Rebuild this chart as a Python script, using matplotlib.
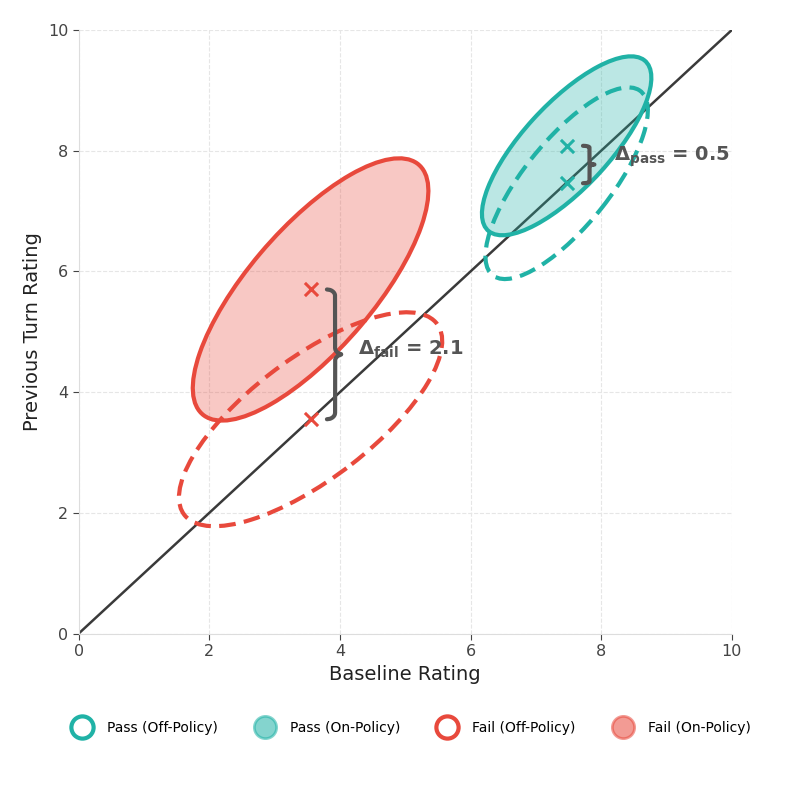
import numpy as np
import matplotlib.pyplot as plt
from matplotlib.patches import Ellipse
from matplotlib.lines import Line2D

teal = '#20b2a6'
red = '#e8493c'

# group centres (baseline, previous turn)
groups = ['Pass (Off-Policy)', 'Pass (On-Policy)', 'Fail (Off-Policy)', 'Fail (On-Policy)']
cx = [7.47, 7.47, 3.55, 3.55]
cy = [7.46, 8.08, 3.55, 5.70]
widths = [3.8, 3.7, 5.0, 5.3]
heights = [1.35, 1.35, 1.95, 1.95]
angles = [54, 50, 40, 52]
colors = [teal, teal, red, red]
filled = [False, True, False, True]
deltas = {'pass': 0.5, 'fail': 2.1}

fig, ax = plt.subplots(figsize=(7.87, 7.87), dpi=100)
fig.subplots_adjust(left=0.1, right=0.93, top=0.962, bottom=0.195)

ax.plot([0, 10], [0, 10], color='#3a3a3a', lw=1.8, zorder=2)

for i in range(4):
    if filled[i]:
        e = Ellipse((cx[i], cy[i]), widths[i], heights[i], angle=angles[i],
                    facecolor=colors[i], alpha=0.3, edgecolor='none', zorder=3)
        ax.add_patch(e)
        e = Ellipse((cx[i], cy[i]), widths[i], heights[i], angle=angles[i],
                    facecolor='none', edgecolor=colors[i], lw=3, zorder=4)
    else:
        e = Ellipse((cx[i], cy[i]), widths[i], heights[i], angle=angles[i],
                    facecolor='none', edgecolor=colors[i], lw=3, ls=(0, (4, 2)), zorder=4)
    ax.add_patch(e)
    ax.scatter(cx[i], cy[i], marker='x', s=90, color=colors[i], linewidths=2.2, zorder=5)


def brace(x, y0, y1, w):
    # curly brace with its tip pointing right
    t = np.linspace(0, 1, 300)
    ys = y0 + t * (y1 - y0)
    s = np.abs(t - 0.5) * 2
    prof = np.where(s > 0.9, np.sqrt(np.clip(1 - ((s - 0.9) / 0.1)**2, 0, 1)), 1.0)
    xs = x + w * 0.5 * prof
    tip = 1 - np.sqrt(np.clip(1 - (1 - s / 0.1)**2, 0, 1))
    xs = np.where(s < 0.1, x + w * 0.5 + w * 0.5 * tip, xs)
    ax.plot(xs, ys, color='#555555', lw=3, zorder=6, solid_capstyle='round')


brace(3.8, 3.55, 5.70, 0.25)
brace(7.72, 7.46, 8.08, 0.2)
ax.text(4.28, 4.7, r'$\mathbf{\Delta}_{\mathbf{fail}}$' + ' = %.1f' % deltas['fail'],
        fontsize=14, fontweight='bold', color='#555555', va='center', zorder=7)
ax.text(8.2, 7.9, r'$\mathbf{\Delta}_{\mathbf{pass}}$' + ' = %.1f' % deltas['pass'],
        fontsize=14, fontweight='bold', color='#555555', va='center', zorder=7)

ax.set_xlim(0, 10)
ax.set_ylim(0, 10)
ax.set_xticks(range(0, 11, 2))
ax.set_yticks(range(0, 11, 2))
ax.grid(True, ls='--', color='#e6e6e6', lw=0.8)
ax.set_axisbelow(True)
for s in ['top', 'right']:
    ax.spines[s].set_visible(False)
for s in ['left', 'bottom']:
    ax.spines[s].set_color('#dddddd')
ax.tick_params(colors='#444444', labelsize=11.5, length=4)
ax.set_xlabel('Baseline Rating', fontsize=14, color='#222222')
ax.set_ylabel('Previous Turn Rating', fontsize=14, color='#222222')

handles = []
for i in range(4):
    if filled[i]:
        h = Line2D([], [], marker='o', ls='none', markersize=16, markerfacecolor=colors[i],
                   markeredgecolor=colors[i], alpha=0.55, markeredgewidth=2)
    else:
        h = Line2D([], [], marker='o', ls='none', markersize=16, markerfacecolor='white',
                   markeredgecolor=colors[i], markeredgewidth=3)
    handles.append(h)
fig.legend(handles, groups, loc='lower center', ncol=4, frameon=False, fontsize=10,
           bbox_to_anchor=(0.52, 0.05), handletextpad=0.8, columnspacing=2.4)

fig.savefig('out.png')
